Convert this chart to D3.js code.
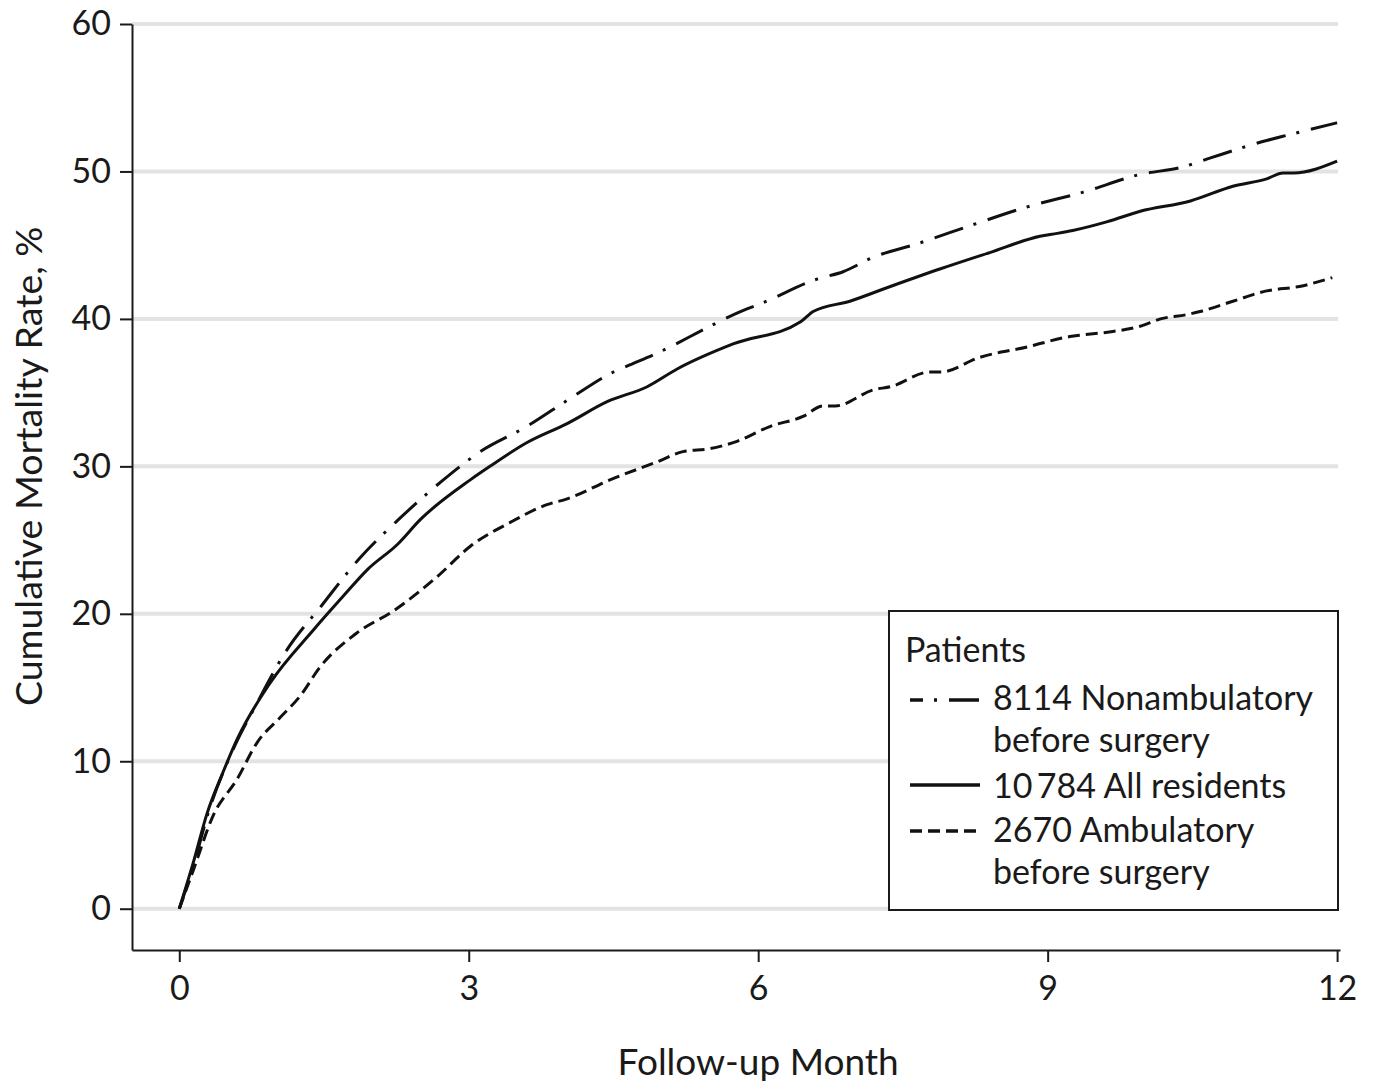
<!DOCTYPE html>
<meta charset="utf-8">
<script src="https://d3js.org/d3.v7.min.js"></script>
<style>
  body { margin: 0; background: #fff; }
  text { font-family: Lato, "Liberation Sans", sans-serif; fill: #1a1a1a; }
</style>
<div id="chart"></div>
<script>
// follow-up month / cumulative mortality (%)
var allMonth = [0, 0.135, 0.29, 0.45, 0.6, 0.94, 1.39, 1.7, 1.95, 2.26, 2.5, 3.02, 3.22, 3.6, 4.02, 4.44, 4.85, 5.16, 5.74, 6.44, 6.57, 6.95, 7.37, 7.89, 8.4, 8.92, 9.1, 9.26, 9.62, 9.96, 10.48, 10.92, 11.27, 11.44, 11.55, 12];
var allRate  = [0, 2.9, 6.5, 9.2, 11.5, 15.3, 18.9, 21.2, 23.0, 24.7, 26.4, 29.1, 30.0, 31.6, 32.9, 34.4, 35.4, 36.6, 38.3, 39.8, 40.5, 41.2, 42.2, 43.4, 44.5, 45.6, 45.8, 46.0, 46.6, 47.3, 48.0, 49.0, 49.5, 49.9, 49.9, 50.7];

var nonambMonth = [0, 0.15, 0.3, 0.53, 0.81, 1.1, 1.48, 1.86, 2.29, 2.74, 3.12, 3.6, 4.05, 4.5, 4.64, 4.96, 5.5, 5.78, 6.05, 6.61, 6.88, 7.2, 7.65, 8.23, 8.79, 9.37, 9.96, 10.4, 10.68, 11.27, 11.51, 12];
var nonambRate  = [0, 3.0, 6.5, 10.4, 14.0, 17.4, 20.6, 23.7, 26.5, 29.1, 31.0, 32.7, 34.6, 36.4, 36.8, 37.7, 39.5, 40.4, 41.1, 42.7, 43.2, 44.2, 45.1, 46.4, 47.6, 48.6, 49.8, 50.3, 50.9, 52.1, 52.5, 53.3];

var ambMonth = [0, 0.15, 0.35, 0.6, 0.81, 1.05, 1.25, 1.46, 1.84, 2.22, 2.67, 3.02, 3.43, 3.81, 4.02, 4.47, 4.95, 5.22, 5.5, 5.78, 6.12, 6.47, 6.67, 6.8, 7.2, 7.37, 7.78, 7.89, 8.3, 8.79, 9.23, 9.34, 9.62, 9.96, 10.17, 10.45, 10.58, 10.92, 11.27, 11.61, 11.95];
var ambRate  = [0, 2.7, 6.3, 8.8, 11.3, 13.0, 14.4, 16.4, 18.7, 20.2, 22.5, 24.6, 26.2, 27.4, 27.8, 29.1, 30.3, 31.0, 31.2, 31.7, 32.7, 33.4, 34.1, 34.1, 35.2, 35.4, 36.4, 36.4, 37.4, 38.1, 38.8, 38.9, 39.1, 39.5, 40.0, 40.3, 40.5, 41.2, 41.9, 42.2, 42.8];

var xTicks = [0, 3, 6, 9, 12];
var yTicks = [0, 10, 20, 30, 40, 50, 60];

var legendTitle = "Patients";
var legendLabels = [
  ["8114 Nonambulatory", "before surgery"],
  ["10\u2009784 All residents"],
  ["2670 Ambulatory", "before surgery"]
];

var width = 1376, height = 1087;
var svg = d3.select("#chart").append("svg")
    .attr("width", width)
    .attr("height", height);

var x = d3.scaleLinear().domain([-0.49, 12.03]).range([132, 1340]);
var y = d3.scaleLinear().domain([-2.8, 60]).range([950, 24]);

// gridlines
svg.append("g")
  .selectAll("line")
  .data(yTicks)
  .enter()
  .append("line")
    .attr("x1", x(-0.49))
    .attr("x2", x(12.01))
    .attr("y1", function(d){ return y(d) })
    .attr("y2", function(d){ return y(d) })
    .style("stroke", "#e3e3e3")
    .style("stroke-width", 4)

// axes
var xAxis = svg.append("g")
  .attr("transform", "translate(0," + y(-2.8) + ")")
  .call(d3.axisBottom(x).tickValues(xTicks).tickSize(12).tickSizeOuter(0).tickPadding(14))
var yAxis = svg.append("g")
  .attr("transform", "translate(" + x(-0.49) + ",0)")
  .call(d3.axisLeft(y).tickValues(yTicks).tickSize(12).tickSizeOuter(0).tickPadding(9))

svg.selectAll(".domain, .tick line").style("stroke", "#1a1a1a").style("stroke-width", 2)
svg.selectAll(".tick text").attr("font-size", "34px").attr("fill", "#1a1a1a")
  .style("font-family", "Lato, 'Liberation Sans', sans-serif")

// series
var series = [
  { month: nonambMonth, rate: nonambRate, dash: "30,11,3,12" },
  { month: allMonth, rate: allRate, dash: null },
  { month: ambMonth, rate: ambRate, dash: "12,6" }
];

var line = d3.line()
  .x(function(d){ return x(d[0]) })
  .y(function(d){ return y(d[1]) })
  .curve(d3.curveMonotoneX)

series.forEach(function(s) {
  svg.append("path")
    .datum(d3.zip(s.month, s.rate))
    .attr("d", line)
    .style("fill", "none")
    .style("stroke", "#111")
    .style("stroke-width", 3)
    .style("stroke-dasharray", s.dash)
})

// axis titles
svg.append("text")
  .attr("x", x(6))
  .attr("y", 1075)
  .attr("text-anchor", "middle")
  .attr("font-size", "37px")
  .text("Follow-up Month")

svg.append("text")
  .attr("transform", "translate(42," + y(30) + ") rotate(-90)")
  .attr("text-anchor", "middle")
  .attr("font-size", "37.5px")
  .text("Cumulative Mortality Rate, %")

// legend
var lg = svg.append("g")
lg.append("rect")
  .attr("x", 889).attr("y", 611)
  .attr("width", 449).attr("height", 299)
  .style("fill", "#fff")
  .style("stroke", "#1a1a1a")
  .style("stroke-width", 2)

lg.append("text")
  .attr("x", 905).attr("y", 662)
  .attr("font-size", "34px")
  .text(legendTitle)

var itemLineY = [700, 785, 831];
var itemTextY = [710, 798, 842];
var legendOffset = [17, 0, 0];

legendLabels.forEach(function(lines, i) {
  lg.append("line")
    .attr("x1", 910).attr("x2", 980)
    .attr("y1", itemLineY[i]).attr("y2", itemLineY[i])
    .style("stroke", "#111")
    .style("stroke-width", 3.5)
    .style("stroke-dasharray", series[i].dash)
    .style("stroke-dashoffset", legendOffset[i])
  lines.forEach(function(t, j) {
    lg.append("text")
      .attr("x", 993)
      .attr("y", itemTextY[i] + j * 42)
      .attr("font-size", "34px")
      .text(t)
  })
})
</script>
